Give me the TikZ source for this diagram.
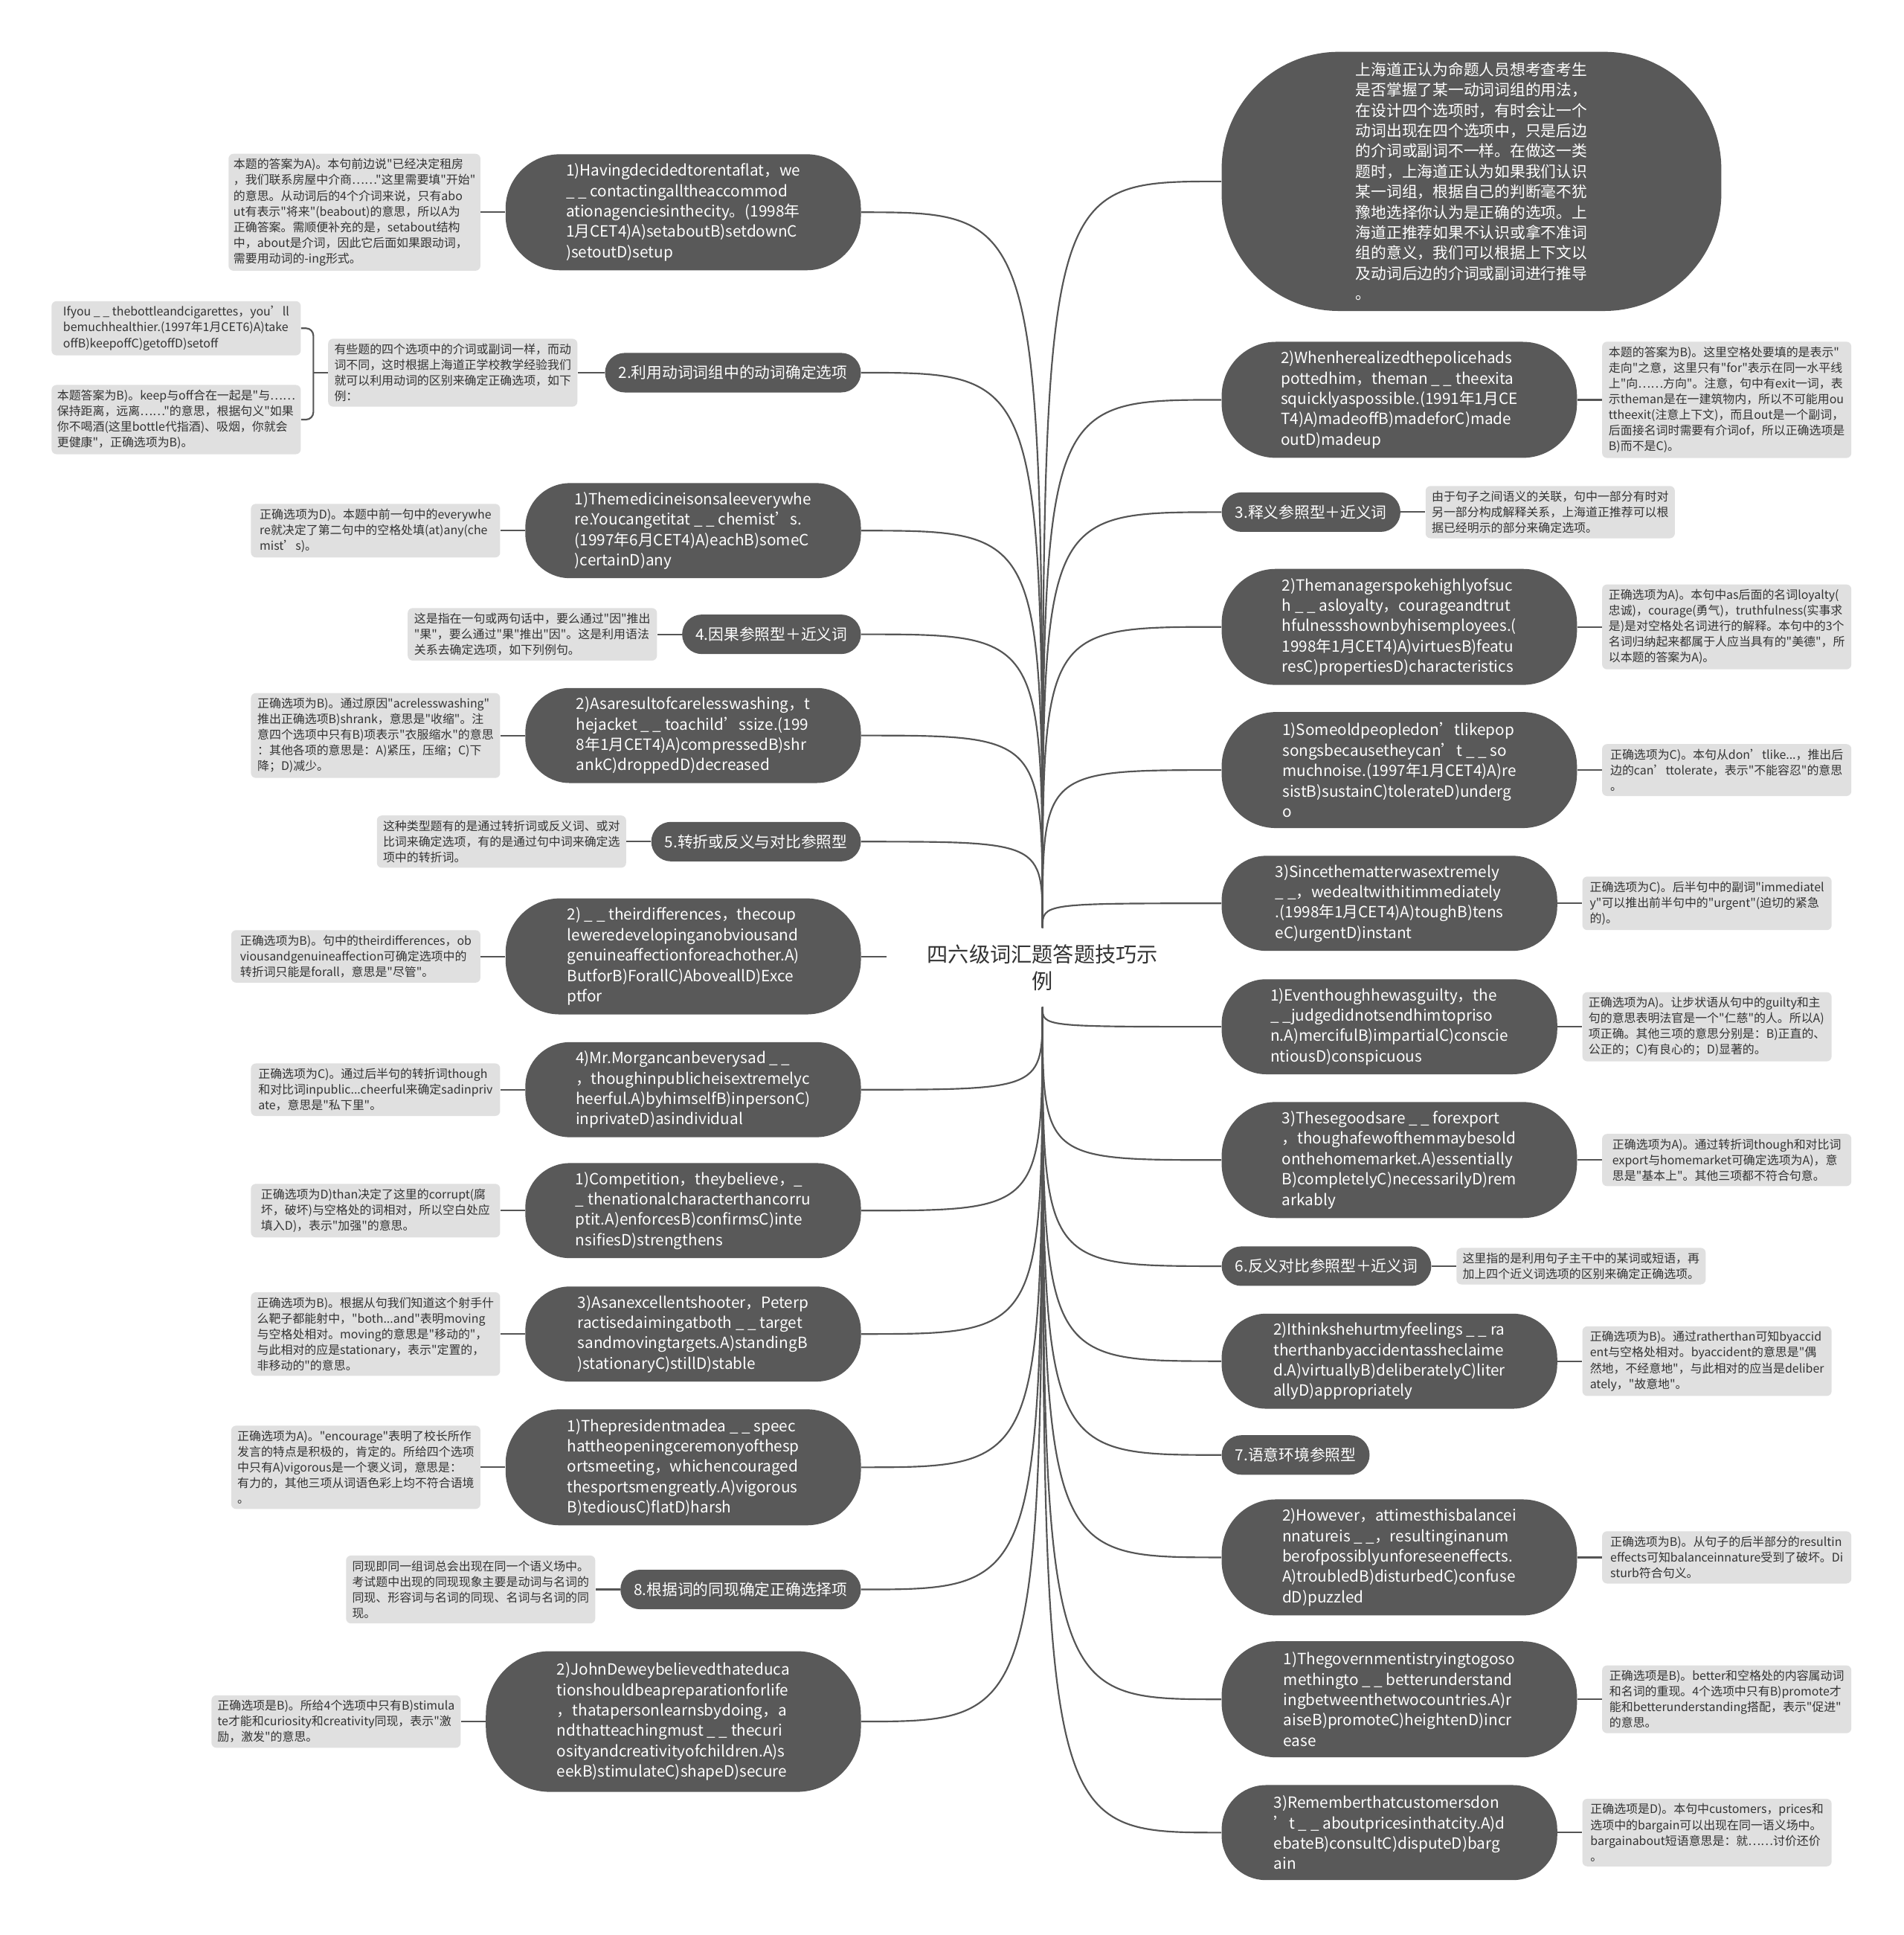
\documentclass[tikz,border=0pt]{standalone}
\usepackage{fontspec}
\setmainfont{Noto Sans CJK SC}[Ligatures=TeXOff]
\usetikzlibrary{positioning}
\definecolor{pill}{HTML}{595959}
\definecolor{notebg}{HTML}{E0E0E0}
\definecolor{notetext}{HTML}{333333}
\definecolor{linec}{HTML}{555555}

\begin{document}
\begin{tikzpicture}[x=1pt, y=-1pt,
  topic/.style={fill=pill, text=white, font=\fontsize{12.5}{16.5}\selectfont, align=left, inner sep=0pt},
  wide/.style={topic, minimum width=288, minimum height=94, rounded corners=44pt},
  mid/.style={topic, minimum width=272, minimum height=77, rounded corners=36pt},
  head/.style={topic, minimum height=32, inner xsep=11pt, rounded corners=16pt},
  note/.style={fill=notebg, text=notetext, font=\fontsize{9.6}{12.7}\selectfont, align=left, minimum width=202, inner sep=4pt, rounded corners=4pt},
  link/.style={draw=linec, line width=1.3pt}
]
\fill[white] (0,0) rectangle (1543,1568);
\useasboundingbox (0,0) rectangle (1543,1568);

\node[font=\fontsize{17}{22}\selectfont, align=center, text=notetext, minimum width=252, minimum height=64, inner sep=0pt] (root) at (845,784) {四六级词汇题答题技巧示\\例};

\node[topic, minimum width=405, minimum height=210, rounded corners=95pt, anchor=west] (r1) at (990,147) {上海道正认为命题人员想考查考生\\是否掌握了某一动词词组的用法，\\在设计四个选项时，有时会让一个\\动词出现在四个选项中，只是后边\\的介词或副词不一样。在做这一类\\题时，上海道正认为如果我们认识\\某一词组，根据自己的判断毫不犹\\豫地选择你认为是正确的选项。上\\海道正推荐如果不认识或拿不准词\\组的意义，我们可以根据上下文以\\及动词后边的介词或副词进行推导\\。};
\node[wide, anchor=west] (r2) at (990,324) {2)Whenherealizedthepolicehads\\pottedhim，theman \_ \_ theexita\\squicklyaspossible.(1991年1月CE\\T4)A)madeoffB)madeforC)made\\outD)madeup};
\node[head, anchor=west] (r3) at (990,415) {3.释义参照型＋近义词};
\node[wide, anchor=west] (r4) at (990,508) {2)Themanagerspokehighlyofsuc\\h \_ \_ asloyalty，courageandtrut\\hfulnessshownbyhisemployees.(\\1998年1月CET4)A)virtuesB)featu\\resC)propertiesD)characteristics};
\node[wide, anchor=west] (r5) at (990,624) {1)Someoldpeopledon’tlikepop\\songsbecausetheycan’t \_ \_ so\\muchnoise.(1997年1月CET4)A)re\\sistB)sustainC)tolerateD)underg\\o};
\node[mid, anchor=west] (r6) at (990,732) {3)Sincethematterwasextremely\\\_ \_，wedealtwithitimmediately\\.(1998年1月CET4)A)toughB)tens\\eC)urgentD)instant};
\node[mid, anchor=west] (r7) at (990,832) {1)Eventhoughhewasguilty，the\\\_ \_judgedidnotsendhimtopriso\\n.A)mercifulB)impartialC)conscie\\ntiousD)conspicuous};
\node[wide, anchor=west] (r8) at (990,940) {3)Thesegoodsare \_ \_ forexport\\，thoughafewofthemmaybesold\\onthehomemarket.A)essentially\\B)completelyC)necessarilyD)rem\\arkably};
\node[head, anchor=west] (r9) at (990,1026) {6.反义对比参照型＋近义词};
\node[mid, anchor=west] (r10) at (990,1103) {2)Ithinkshehurtmyfeelings \_ \_ ra\\therthanbyaccidentassheclaime\\d.A)virtuallyB)deliberatelyC)liter\\allyD)appropriately};
\node[head, anchor=west] (r11) at (990,1179) {7.语意环境参照型};
\node[wide, anchor=west] (r12) at (990,1262) {2)However，attimesthisbalancei\\nnatureis \_ \_，resultinginanum\\berofpossiblyunforeseeneffects.\\A)troubledB)disturbedC)confuse\\dD)puzzled};
\node[wide, anchor=west] (r13) at (990,1377) {1)Thegovernmentistryingtogoso\\methingto \_ \_ betterunderstand\\ingbetweenthetwocountries.A)r\\aiseB)promoteC)heightenD)incr\\ease};
\node[mid, anchor=west] (r14) at (990,1485) {3)Rememberthatcustomersdon\\’t \_ \_ aboutpricesinthatcity.A)d\\ebateB)consultC)disputeD)barg\\ain};

\node[note, right=20pt of r2] (r2n) {本题的答案为B)。这里空格处要填的是表示"\\走向"之意，这里只有"for"表示在同一水平线\\上"向……方向"。注意，句中有exit一词，表\\示theman是在一建筑物内，所以不可能用ou\\ttheexit(注意上下文)，而且out是一个副词，\\后面接名词时需要有介词of，所以正确选项是\\B)而不是C)。};
\node[note, right=20pt of r3] (r3n) {由于句子之间语义的关联，句中一部分有时对\\另一部分构成解释关系，上海道正推荐可以根\\据已经明示的部分来确定选项。};
\node[note, right=20pt of r4] (r4n) {正确选项为A)。本句中as后面的名词loyalty(\\忠诚)，courage(勇气)，truthfulness(实事求\\是)是对空格处名词进行的解释。本句中的3个\\名词归纳起来都属于人应当具有的"美德"，所\\以本题的答案为A)。};
\node[note, right=20pt of r5] (r5n) {正确选项为C)。本句从don’tlike...，推出后\\边的can’ttolerate，表示"不能容忍"的意思\\。};
\node[note, right=20pt of r6] (r6n) {正确选项为C)。后半句中的副词"immediatel\\y"可以推出前半句中的"urgent"(迫切的紧急\\的)。};
\node[note, right=20pt of r7] (r7n) {正确选项为A)。让步状语从句中的guilty和主\\句的意思表明法官是一个"仁慈"的人。所以A)\\项正确。其他三项的意思分别是：B)正直的、\\公正的；C)有良心的；D)显著的。};
\node[note, right=20pt of r8] (r8n) {正确选项为A)。通过转折词though和对比词\\export与homemarket可确定选项为A)，意\\思是"基本上"。其他三项都不符合句意。};
\node[note, right=20pt of r9] (r9n) {这里指的是利用句子主干中的某词或短语，再\\加上四个近义词选项的区别来确定正确选项。};
\node[note, right=20pt of r10] (r10n) {正确选项为B)。通过ratherthan可知byaccid\\ent与空格处相对。byaccident的意思是"偶\\然地，不经意地"，与此相对的应当是deliber\\ately，"故意地"。};
\node[note, right=20pt of r12] (r12n) {正确选项为B)。从句子的后半部分的resultin\\effects可知balanceinnature受到了破坏。Di\\sturb符合句义。};
\node[note, right=20pt of r13] (r13n) {正确选项是B)。better和空格处的内容属动词\\和名词的重现。4个选项中只有B)promote才\\能和betterunderstanding搭配，表示"促进"\\的意思。};
\node[note, right=20pt of r14] (r14n) {正确选项是D)。本句中customers，prices和\\选项中的bargain可以出现在同一语义场中。\\bargainabout短语意思是：就……讨价还价\\。};

\node[wide, anchor=east] (l1) at (698,172) {1)Havingdecidedtorentaflat，we\\\_ \_ contactingalltheaccommod\\ationagenciesinthecity。(1998年\\1月CET4)A)setaboutB)setdownC\\)setoutD)setup};
\node[head, anchor=east] (l2) at (698,302) {2.利用动词词组中的动词确定选项};
\node[mid, anchor=east] (l3) at (698,430) {1)Themedicineisonsaleeverywhe\\re.Youcangetitat \_ \_ chemist’s.\\(1997年6月CET4)A)eachB)someC\\)certainD)any};
\node[head, anchor=east] (l4) at (698,514) {4.因果参照型＋近义词};
\node[mid, anchor=east] (l5) at (698,596) {2)Asaresultofcarelesswashing，t\\hejacket \_ \_ toachild’ssize.(199\\8年1月CET4)A)compressedB)shr\\ankC)droppedD)decreased};
\node[head, anchor=east] (l6) at (698,682) {5.转折或反义与对比参照型};
\node[wide, anchor=east] (l7) at (698,775) {2) \_ \_ theirdifferences，thecoup\\leweredevelopinganobviousand\\genuineaffectionforeachother.A)\\ButforB)ForallC)AboveallD)Exce\\ptfor};
\node[mid, anchor=east] (l8) at (698,883) {4)Mr.Morgancanbeverysad \_ \_\\，thoughinpublicheisextremelyc\\heerful.A)byhimselfB)inpersonC)\\inprivateD)asindividual};
\node[mid, anchor=east] (l9) at (698,981) {1)Competition，theybelieve，\_\\\_ thenationalcharacterthancorru\\ptit.A)enforcesB)confirmsC)inte\\nsifiesD)strengthens};
\node[mid, anchor=east] (l10) at (698,1081) {3)Asanexcellentshooter，Peterp\\ractisedaimingatboth \_ \_ target\\sandmovingtargets.A)standingB\\)stationaryC)stillD)stable};
\node[wide, anchor=east] (l11) at (698,1189) {1)Thepresidentmadea \_ \_ speec\\hattheopeningceremonyofthesp\\ortsmeeting，whichencouraged\\thesportsmengreatly.A)vigorous\\B)tediousC)flatD)harsh};
\node[head, anchor=east] (l12) at (698,1288) {8.根据词的同现确定正确选择项};
\node[topic, minimum width=304, minimum height=114, rounded corners=52pt, anchor=east] (l13) at (698,1395) {2)JohnDeweybelievedthateduca\\tionshouldbeapreparationforlife\\，thatapersonlearnsbydoing，a\\ndthatteachingmust \_ \_ thecuri\\osityandcreativityofchildren.A)s\\eekB)stimulateC)shapeD)secure};

\node[note, left=20pt of l1] (l1n) {本题的答案为A)。本句前边说"已经决定租房\\，我们联系房屋中介商……"这里需要填"开始"\\的意思。从动词后的4个介词来说，只有abo\\ut有表示"将来"(beabout)的意思，所以A为\\正确答案。需顺便补充的是，setabout结构\\中，about是介词，因此它后面如果跟动词，\\需要用动词的-ing形式。};
\node[note, left=22pt of l2] (l2n) {有些题的四个选项中的介词或副词一样，而动\\词不同，这时根据上海道正学校教学经验我们\\就可以利用动词的区别来确定正确选项，如下\\例：};
\node[note, anchor=east] (l2a) at (244,266) {Ifyou \_ \_ thebottleandcigarettes，you’ll\\bemuchhealthier.(1997年1月CET6)A)take\\offB)keepoffC)getoffD)setoff};
\node[note, anchor=east] (l2b) at (244,340) {本题答案为B)。keep与off合在一起是"与……\\保持距离，远离……"的意思，根据句义"如果\\你不喝酒(这里bottle代指酒)、吸烟，你就会\\更健康"，正确选项为B)。};
\node[note, left=20pt of l3] (l3n) {正确选项为D)。本题中前一句中的everywhe\\re就决定了第二句中的空格处填(at)any(che\\mist’s)。};
\node[note, left=20pt of l4] (l4n) {这是指在一句或两句话中，要么通过"因"推出\\"果"，要么通过"果"推出"因"。这是利用语法\\关系去确定选项，如下列例句。};
\node[note, left=20pt of l5] (l5n) {正确选项为B)。通过原因"acrelesswashing"\\推出正确选项B)shrank，意思是"收缩"。注\\意四个选项中只有B)项表示"衣服缩水"的意思\\：其他各项的意思是：A)紧压，压缩；C)下\\降；D)减少。};
\node[note, left=20pt of l6] (l6n) {这种类型题有的是通过转折词或反义词、或对\\比词来确定选项，有的是通过句中词来确定选\\项中的转折词。};
\node[note, left=20pt of l7] (l7n) {正确选项为B)。句中的theirdifferences，ob\\viousandgenuineaffection可确定选项中的\\转折词只能是forall，意思是"尽管"。};
\node[note, left=20pt of l8] (l8n) {正确选项为C)。通过后半句的转折词though\\和对比词inpublic...cheerful来确定sadinpriv\\ate，意思是"私下里"。};
\node[note, left=20pt of l9] (l9n) {正确选项为D)than决定了这里的corrupt(腐\\坏，破坏)与空格处的词相对，所以空白处应\\填入D)，表示"加强"的意思。};
\node[note, left=20pt of l10] (l10n) {正确选项为B)。根据从句我们知道这个射手什\\么靶子都能射中，"both...and"表明moving\\与空格处相对。moving的意思是"移动的"，\\与此相对的应是stationary，表示"定置的，\\非移动的"的意思。};
\node[note, left=20pt of l11] (l11n) {正确选项为A)。"encourage"表明了校长所作\\发言的特点是积极的，肯定的。所给四个选项\\中只有A)vigorous是一个褒义词，意思是：\\有力的，其他三项从词语色彩上均不符合语境\\。};
\node[note, left=20pt of l12] (l12n) {同现即同一组词总会出现在同一个语义场中。\\考试题中出现的同现现象主要是动词与名词的\\同现、形容词与名词的同现、名词与名词的同\\现。};
\node[note, left=20pt of l13] (l13n) {正确选项是B)。所给4个选项中只有B)stimula\\te才能和curiosity和creativity同现，表示"激\\励，激发"的意思。};

\draw[link] (root.north) .. controls (root.north |- l1.east) .. (l1.east);
\draw[link] (root.north) .. controls (root.north |- l2.east) .. (l2.east);
\draw[link] (root.north) .. controls (root.north |- l3.east) .. (l3.east);
\draw[link] (root.north) .. controls (root.north |- l4.east) .. (l4.east);
\draw[link] (root.north) .. controls (root.north |- l5.east) .. (l5.east);
\draw[link] (root.north) .. controls (root.north |- l6.east) .. (l6.east);
\draw[link] (l7.east) -- (l7.east -| root.west);
\draw[link] (root.south) .. controls (root.south |- l8.east) .. (l8.east);
\draw[link] (root.south) .. controls (root.south |- l9.east) .. (l9.east);
\draw[link] (root.south) .. controls (root.south |- l10.east) .. (l10.east);
\draw[link] (root.south) .. controls (root.south |- l11.east) .. (l11.east);
\draw[link] (root.south) .. controls (root.south |- l12.east) .. (l12.east);
\draw[link] (root.south) .. controls (root.south |- l13.east) .. (l13.east);
\draw[link] (root.north) .. controls (root.north |- r1.west) .. (r1.west);
\draw[link] (root.north) .. controls (root.north |- r2.west) .. (r2.west);
\draw[link] (root.north) .. controls (root.north |- r3.west) .. (r3.west);
\draw[link] (root.north) .. controls (root.north |- r4.west) .. (r4.west);
\draw[link] (root.north) .. controls (root.north |- r5.west) .. (r5.west);
\draw[link] (root.north) .. controls (root.north |- r6.west) .. (r6.west);
\draw[link] (root.south) .. controls (root.south |- r7.west) .. (r7.west);
\draw[link] (root.south) .. controls (root.south |- r8.west) .. (r8.west);
\draw[link] (root.south) .. controls (root.south |- r9.west) .. (r9.west);
\draw[link] (root.south) .. controls (root.south |- r10.west) .. (r10.west);
\draw[link] (root.south) .. controls (root.south |- r11.west) .. (r11.west);
\draw[link] (root.south) .. controls (root.south |- r12.west) .. (r12.west);
\draw[link] (root.south) .. controls (root.south |- r13.west) .. (r13.west);
\draw[link] (root.south) .. controls (root.south |- r14.west) .. (r14.west);

\draw[link] (l1.west) -- (l1n.east);
\draw[link] (l2.west) -- (l2n.east);
\coordinate (l2fork) at (254,302);
\draw[link] (l2n.west) -- (l2fork);
\draw[link, rounded corners=6pt] (l2a.east) -| (l2fork) |- (l2b.east);
\draw[link] (l3.west) -- (l3n.east);
\draw[link] (l4.west) -- (l4n.east);
\draw[link] (l5.west) -- (l5n.east);
\draw[link] (l6.west) -- (l6n.east);
\draw[link] (l7.west) -- (l7n.east);
\draw[link] (l8.west) -- (l8n.east);
\draw[link] (l9.west) -- (l9n.east);
\draw[link] (l10.west) -- (l10n.east);
\draw[link] (l11.west) -- (l11n.east);
\draw[link] (l12.west) -- (l12n.east);
\draw[link] (l13.west) -- (l13n.east);
\draw[link] (r2.east) -- (r2n.west);
\draw[link] (r3.east) -- (r3n.west);
\draw[link] (r4.east) -- (r4n.west);
\draw[link] (r5.east) -- (r5n.west);
\draw[link] (r6.east) -- (r6n.west);
\draw[link] (r7.east) -- (r7n.west);
\draw[link] (r8.east) -- (r8n.west);
\draw[link] (r9.east) -- (r9n.west);
\draw[link] (r10.east) -- (r10n.west);
\draw[link] (r12.east) -- (r12n.west);
\draw[link] (r13.east) -- (r13n.west);
\draw[link] (r14.east) -- (r14n.west);
\end{tikzpicture}
\end{document}
